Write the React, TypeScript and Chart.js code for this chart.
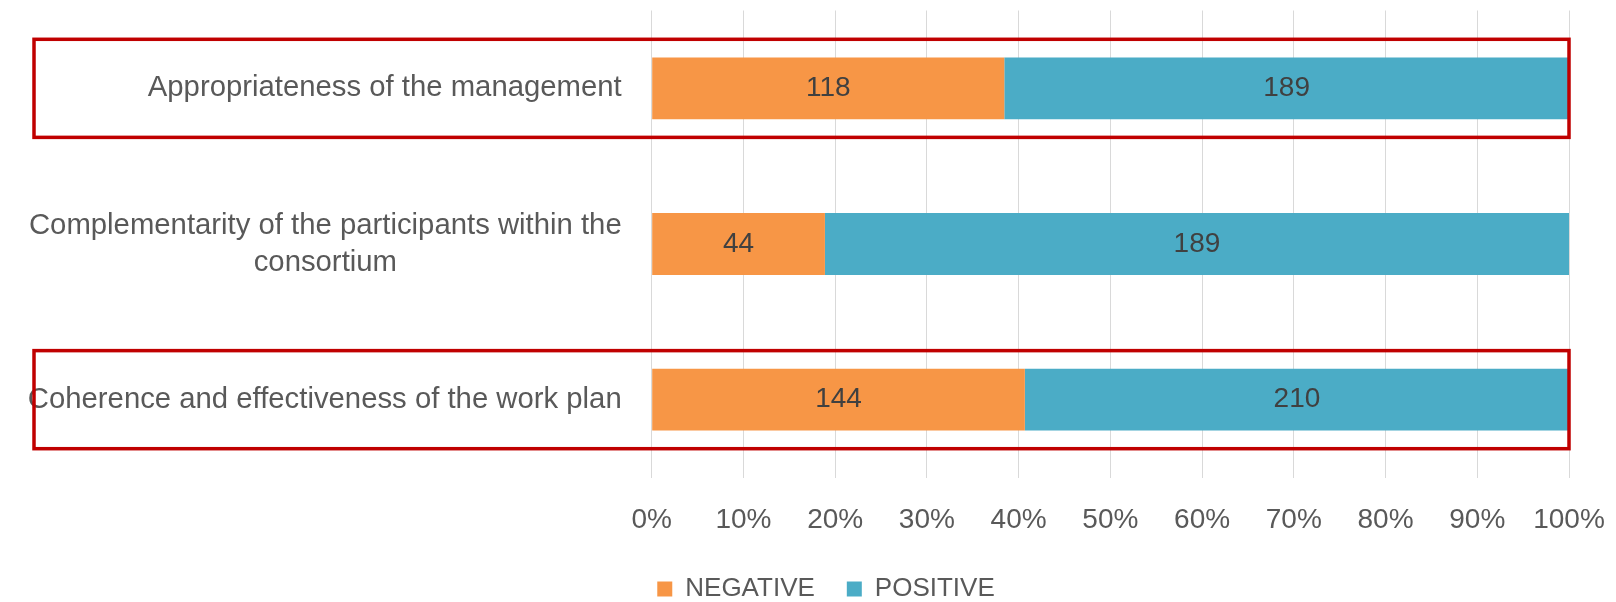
import React, { useEffect, useRef } from "react";
import { Chart, registerables } from "chart.js";

Chart.register(...registerables);

// ---- data ----
const categories: string[][] = [
  ["Appropriateness of the management"],
  ["Complementarity of the participants within the", "consortium"],
  ["Coherence and effectiveness of the work plan"],
];
const negativeValues = [118, 44, 144];
const positiveValues = [189, 189, 210];
const seriesNames = ["NEGATIVE", "POSITIVE"];
const highlightedCategories = [0, 2];

const totals = negativeValues.map((v, i) => v + positiveValues[i]);
const negativePct = negativeValues.map((v, i) => (v / totals[i]) * 100);
const positivePct = positiveValues.map((v, i) => (v / totals[i]) * 100);
const rawValues = [negativeValues, positiveValues];

const FONT = '"Liberation Sans", Arial, sans-serif';
const TEXT_GRAY = "#595959";

const categoryLabelPlugin = {
  id: "categoryLabels",
  afterDraw(chart: any) {
    const ctx = chart.ctx;
    const yScale = chart.scales.y;
    const rightX = chart.chartArea.left - 30;
    ctx.save();
    ctx.font = `29.3px ${FONT}`;
    ctx.fillStyle = TEXT_GRAY;
    ctx.textAlign = "center";
    ctx.textBaseline = "middle";
    const lineH = 37;
    categories.forEach((lines, i) => {
      const widths = lines.map((l) => ctx.measureText(l).width);
      const blockW = Math.max(...widths);
      const cx = rightX - blockW / 2;
      const cy = yScale.getPixelForValue(i);
      lines.forEach((l, k) => {
        ctx.fillText(l, cx, cy + (k - (lines.length - 1) / 2) * lineH);
      });
    });
    ctx.restore();
  },
};

const valueLabelPlugin = {
  id: "valueLabels",
  afterDatasetsDraw(chart: any) {
    const ctx = chart.ctx;
    ctx.save();
    ctx.font = `28px ${FONT}`;
    ctx.fillStyle = "#404040";
    ctx.textAlign = "center";
    ctx.textBaseline = "middle";
    chart.data.datasets.forEach((_: any, di: number) => {
      const meta = chart.getDatasetMeta(di);
      meta.data.forEach((bar: any, j: number) => {
        const p = bar.getProps(["x", "y", "base"], true);
        ctx.fillText(String(rawValues[di][j]), (p.x + p.base) / 2, p.y);
      });
    });
    ctx.restore();
  },
};

const highlightPlugin = {
  id: "highlightBoxes",
  afterDraw(chart: any) {
    const ctx = chart.ctx;
    const yScale = chart.scales.y;
    const band = yScale.getPixelForValue(1) - yScale.getPixelForValue(0);
    const left = 34;
    const right = chart.chartArea.right;
    ctx.save();
    ctx.strokeStyle = "#C00000";
    ctx.lineWidth = 3.5;
    highlightedCategories.forEach((i) => {
      const cy = yScale.getPixelForValue(i);
      const top = cy - 0.315 * band;
      const h = 0.63 * band;
      ctx.strokeRect(left, top, right - left, h);
    });
    ctx.restore();
  },
};

export default function App() {
  const ref = useRef<HTMLCanvasElement | null>(null);

  useEffect(() => {
    if (!ref.current) return;
    const chart = new Chart(ref.current, {
      type: "bar",
      data: {
        labels: categories,
        datasets: [
          {
            label: seriesNames[0],
            data: negativePct,
            backgroundColor: "#F79646",
            barPercentage: 0.397,
            categoryPercentage: 1,
          },
          {
            label: seriesNames[1],
            data: positivePct,
            backgroundColor: "#4BACC6",
            barPercentage: 0.397,
            categoryPercentage: 1,
          },
        ],
      },
      options: {
        indexAxis: "y",
        responsive: false,
        animation: false,
        layout: { padding: { left: 83, right: 47, top: 10.5, bottom: 0 } },
        plugins: {
          legend: {
            position: "bottom",
            labels: {
              boxWidth: 15,
              boxHeight: 15,
              padding: 32,
              color: TEXT_GRAY,
              font: { family: FONT, size: 26 },
            },
          },
          tooltip: { enabled: false },
        },
        scales: {
          x: {
            type: "linear",
            stacked: true,
            min: 0,
            max: 100,
            ticks: {
              stepSize: 10,
              callback: (v: any) => `${v}%`,
              color: TEXT_GRAY,
              font: { family: FONT, size: 28 },
              padding: 0,
              maxRotation: 0,
              autoSkip: false,
            },
            grid: {
              color: "#D9D9D9",
              lineWidth: 1,
              drawTicks: true,
              tickLength: 26,
              tickColor: "rgba(0,0,0,0)",
            },
            border: { display: false },
            afterFit: (s: any) => {
              s.height = 66.5;
            },
          },
          y: {
            type: "category",
            stacked: true,
            ticks: { display: false },
            grid: { display: false, drawTicks: false },
            border: { display: false },
            afterFit: (s: any) => {
              s.width = 568.7;
            },
          },
        },
      },
      plugins: [valueLabelPlugin, categoryLabelPlugin, highlightPlugin],
    } as any);
    return () => chart.destroy();
  }, []);

  return (
    <div
      style={{
        position: "fixed",
        left: 0,
        top: 0,
        width: 1616,
        height: 602,
        overflow: "hidden",
        background: "#ffffff",
      }}
    >
      <canvas ref={ref} width={1616} height={612} style={{ width: 1616, height: 612, display: "block" }} />
    </div>
  );
}
